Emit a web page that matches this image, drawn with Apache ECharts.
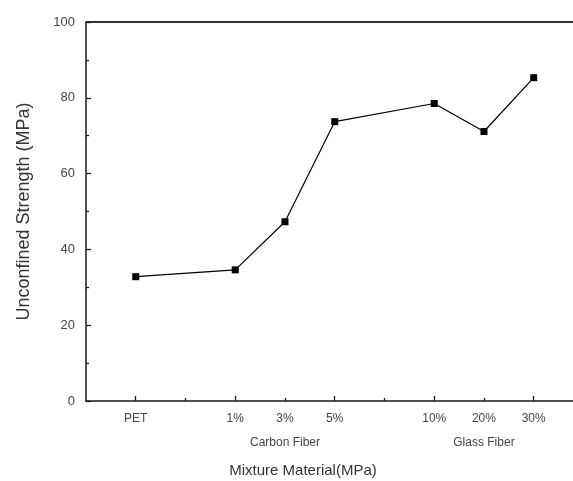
<!DOCTYPE html>
<html>
<head>
<meta charset="utf-8">
<script src="https://cdn.jsdelivr.net/npm/echarts@6/dist/echarts.min.js"></script>
<style>html,body{margin:0;padding:0;background:#fff}#c{width:573px;height:481px}</style>
</head>
<body>
<div id="c"></div>
<script>
var categories = ['PET', '1%', '3%', '5%', '10%', '20%', '30%'];
var groupLabels = ['', '', 'Carbon Fiber', '', '', 'Glass Fiber', ''];
var xPositions = [0, 2, 3, 4, 6, 7, 8];
var strength = [32.8, 34.6, 47.3, 73.7, 78.5, 71.1, 85.3];
var yTicks = [0, 20, 40, 60, 80, 100];
var majorX = [0, 2, 4, 6, 8];
var minorX = [1, 3, 5, 7];

var chart = echarts.init(document.getElementById('c'), null, {renderer: 'canvas'});
var font = 'Liberation Sans, Arial, sans-serif';
var axisCol = '#1a1a1a';
var labelMap = {};
xPositions.forEach(function (p, i) { labelMap[p] = groupLabels[i] ? categories[i] + '\n' + groupLabels[i] : categories[i]; });

var option = {
  animation: false,
  grid: {left: 86, right: 0, top: 22, bottom: 80, containLabel: false},
  xAxis: [{
    type: 'value', min: -1, max: 8.79, position: 'bottom',
    axisLine: {show: true, onZero: false, lineStyle: {color: axisCol, width: 1.5}},
    axisTick: {show: true, inside: true, length: 5, customValues: majorX, lineStyle: {color: axisCol, width: 1.3}},
    axisLabel: {customValues: xPositions, formatter: function (v) { return labelMap[v] || ''; },
      color: '#444', fontFamily: font, fontSize: 12, lineHeight: 24, margin: 6},
    splitLine: {show: false}
  }, {
    type: 'value', min: -1, max: 8.79, position: 'bottom', gridIndex: 0,
    axisLine: {show: false},
    axisTick: {show: true, inside: true, length: 3, customValues: minorX, lineStyle: {color: axisCol, width: 1.3}},
    axisLabel: {show: false},
    splitLine: {show: false}
  }, {
    type: 'value', min: -1, max: 8.79, position: 'top',
    axisLine: {show: true, onZero: false, lineStyle: {color: '#333', width: 1.8}},
    axisTick: {show: false}, axisLabel: {show: false}, splitLine: {show: false}
  }],
  yAxis: {
    type: 'value', min: yTicks[0], max: yTicks[yTicks.length - 1], interval: 20,
    axisLine: {show: true, onZero: false, lineStyle: {color: axisCol, width: 1.5}},
    axisTick: {show: true, inside: true, length: 5, lineStyle: {color: axisCol, width: 1.3}},
    minorTick: {show: true, splitNumber: 2, length: 3, lineStyle: {color: axisCol, width: 1.3}},
    axisLabel: {color: '#444', fontFamily: font, fontSize: 13, margin: 11},
    splitLine: {show: false},
    name: 'Unconfined Strength (MPa)', nameLocation: 'middle', nameGap: 53,
    nameTextStyle: {color: '#333', fontFamily: font, fontSize: 18}
  },
  graphic: [{
    type: 'text', x: 303, y: 471,
    style: {text: 'Mixture Material(MPa)', font: '15px ' + font, fill: '#333', align: 'center', verticalAlign: 'middle'}
  }],
  series: [{
    type: 'line', xAxisIndex: 0,
    data: xPositions.map(function (p, i) { return [p, strength[i]]; }),
    symbol: 'rect', symbolSize: 7, showAllSymbol: true,
    itemStyle: {color: '#000'},
    lineStyle: {color: '#000', width: 1.2}
  }]
};
chart.setOption(option);
</script>
</body>
</html>
